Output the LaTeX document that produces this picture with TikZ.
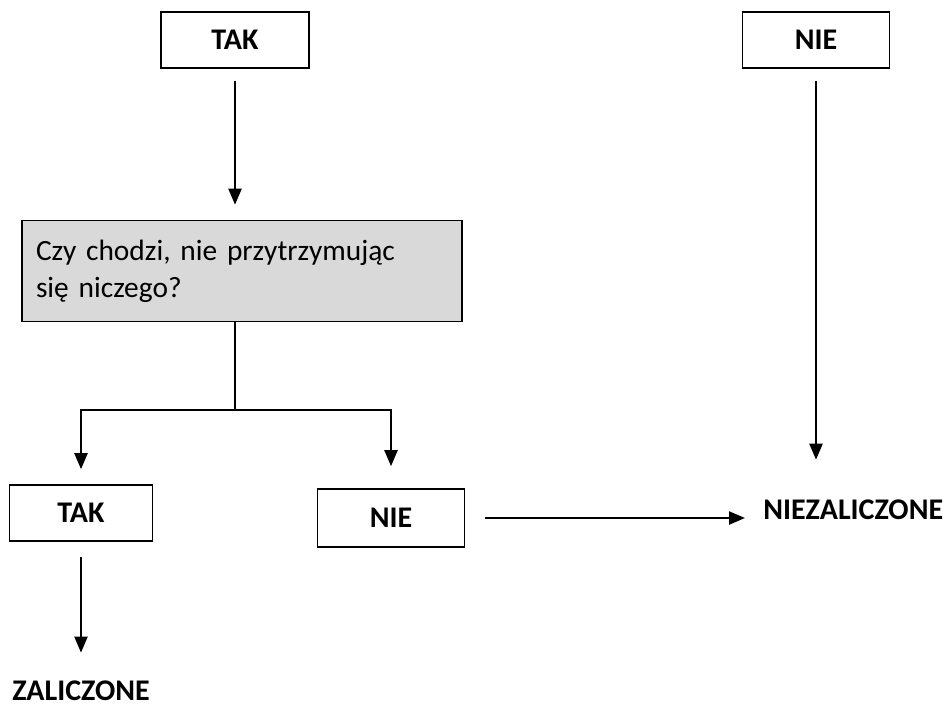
\documentclass[tikz,border=0pt]{standalone}
\usepackage{fontspec}
\setmainfont{Carlito}
\usetikzlibrary{arrows.meta}
\definecolor{boxgray}{HTML}{D9D9D9}

\begin{document}
\begin{tikzpicture}[
    x=0.5pt, y=-0.5pt,
    every node/.style={
        font=\fontsize{15}{18.5}\selectfont\bfseries
    },
    answer/.style={
        draw,
        line width=0.8pt,
        minimum width=74pt,
        minimum height=28pt
    },
    question/.style={
        draw,
        line width=0.8pt,
        fill=boxgray,
        minimum width=220pt,
        minimum height=50.5pt,
        text width=206pt,
        align=left,
        font=\fontsize{14.7}{18.5}\selectfont
    },
    result/.style={
        inner sep=0pt
    },
    arr/.style={
        -{Triangle[length=8pt,width=6.5pt]},
        line width=1.1pt
    }
]
\useasboundingbox (0,0) rectangle (945,717);

% węzły
\node[answer] (tak1) at (235,40) {TAK};
\node[answer, minimum width=73.5pt] (nie1) at (816,40) {NIE};
\node[question] (question) at (242,271) {Czy chodzi, nie przytrzymując\\się niczego?};
\node[answer, minimum width=71.5pt] (tak2) at (81,513) {TAK};
\node[answer, minimum width=73.5pt, minimum height=29pt] (nie2) at (391,518) {NIE};
\node[result, anchor=west] (fail) at (763,510) {NIEZALICZONE};
\node[result] (pass) at (81,691) {ZALICZONE};
\coordinate (split) at (235,410);

% strzałki
\draw[arr, shorten <=6pt, shorten >=7.5pt] (tak1.south) -- (tak1.south |- question.north);
\draw[line width=0.6pt] (question.south -| split) -- (split);
\draw[arr, shorten >=7.5pt] (split) -| (tak2);
\draw[arr, shorten >=11pt] (split) -| (nie2);
\draw[arr, shorten <=7.5pt, shorten >=14pt] (tak2) -- (pass);
\draw[arr, shorten <=10pt, shorten >=9pt] (nie2.east) -- (nie2.east -| fail.west);
\draw[arr, shorten <=6pt, shorten >=20pt] (nie1.south) -- (nie1.south |- fail.north);

\end{tikzpicture}
\end{document}
